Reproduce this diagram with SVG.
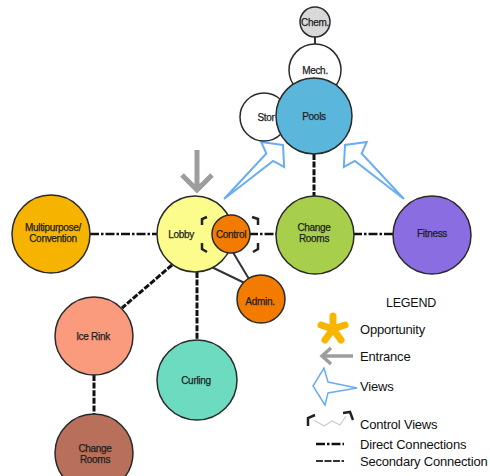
<svg xmlns="http://www.w3.org/2000/svg" width="490" height="476" viewBox="0 0 490 476">
<style>
.n{stroke:#2a2a2a;stroke-width:1.5}
.t{font-family:"Liberation Sans",Arial,sans-serif;font-size:10px;fill:#1e1e1e;stroke:#1e1e1e;stroke-width:0.25;text-anchor:middle;letter-spacing:-0.3px}
.lg{font-family:"Liberation Sans",Arial,sans-serif;font-size:13px;fill:#111;letter-spacing:-0.2px}
.dd{stroke:#111;stroke-width:2.6;stroke-dasharray:9 2 2.5 2;fill:none}
.ds{stroke:#111;stroke-width:3;stroke-dasharray:6 1.6;fill:none}
.sl{stroke:#333;stroke-width:2;fill:none}
.view{fill:none;stroke:#6aaef0;stroke-width:2;stroke-linejoin:miter}
.ent{fill:none;stroke:#9d9d9d;stroke-width:5}
.br{fill:none;stroke:#222;stroke-width:2.5}
</style>
<defs>
<polygon id="va" points="0,0 -14,-17 -18,-5 -80,0 -18,5 -14,17"/>
</defs>
<g id="connectors">
<line class="dd" x1="90" y1="234" x2="158" y2="234"/>
<line class="dd" x1="249" y1="234" x2="276" y2="234"/>
<line class="dd" x1="353" y1="234" x2="393" y2="234"/>
<line class="ds" x1="314" y1="154" x2="314" y2="196"/>
<line class="ds" x1="197" y1="272" x2="197" y2="341"/>
<line class="ds" x1="94" y1="375" x2="94" y2="415"/>
<line class="ds" x1="172" y1="265" x2="122" y2="308"/>
<line class="sl" x1="195" y1="259" x2="255" y2="288"/>
<line class="sl" x1="228" y1="244" x2="252" y2="284"/>
<line class="sl" x1="315" y1="36" x2="315" y2="46"/>
<use href="#va" class="view" transform="translate(283,145) rotate(-42.5)"/>
<use href="#va" class="view" transform="translate(345,145) rotate(-137.5)"/>
<path class="ent" d="M197,150 V188 M182,175 L197,190 L212,175"/>
</g>
<g id="chem"><circle class="n" cx="315" cy="22" r="15" fill="#d9d9d9"/><text class="t" x="315" y="25.5">Chem.</text></g>
<g id="mech"><circle class="n" cx="315" cy="70" r="26" fill="#fff"/><text class="t" x="315" y="73.5">Mech.</text></g>
<g id="stor"><circle class="n" cx="264" cy="117" r="24" fill="#fff"/><text class="t" x="266" y="120.5">Stor</text></g>
<g id="pools"><circle class="n" cx="314" cy="116" r="38" fill="#5bb6db"/><text class="t" x="314" y="120">Pools</text></g>
<g id="multipurpose"><circle class="n" cx="51" cy="234" r="39" fill="#f6b400"/><text class="t" x="53" y="231">Multipurpose/</text><text class="t" x="53" y="242">Convention</text></g>
<g id="lobby"><circle class="n" cx="195" cy="234" r="38" fill="#fcfc8c"/><text class="t" x="181" y="238">Lobby</text></g>
<g id="control"><circle class="n" cx="231" cy="234" r="19" fill="#f27b00"/><text class="t" x="231" y="238">Control</text></g>
<g id="control-views">
<path class="br" d="M207,217 L202,219 L202,225 M202,243 L202,249 L207,252 M252,217 L258,219 L258,225 M258,243 L258,249 L253,252"/>
</g>
<g id="change-rooms"><circle class="n" cx="315" cy="235" r="39" fill="#a8cf4c"/><text class="t" x="314" y="231">Change</text><text class="t" x="314" y="242">Rooms</text></g>
<g id="fitness"><circle class="n" cx="432" cy="235" r="39" fill="#8a6de0"/><text class="t" x="432" y="237">Fitness</text></g>
<g id="admin"><circle class="n" cx="261" cy="299" r="24" fill="#f27b00"/><text class="t" x="260" y="305">Admin.</text></g>
<g id="ice-rink"><circle class="n" cx="94" cy="336" r="39" fill="#f99b7c"/><text class="t" x="93" y="340">Ice Rink</text></g>
<g id="curling"><circle class="n" cx="197" cy="380" r="40" fill="#6cdbc0"/><text class="t" x="196" y="384">Curling</text></g>
<g id="change-rooms-2"><circle class="n" cx="94" cy="453" r="39" fill="#b8705a"/><text class="t" x="95" y="452">Change</text><text class="t" x="95" y="463">Rooms</text></g>
<g id="legend">
<text class="lg" x="411" y="307" text-anchor="middle" style="font-size:12.5px">LEGEND</text>
<g stroke="#f7b500" stroke-width="7" stroke-linecap="round">
<line x1="333" y1="329" x2="333" y2="316"/>
<line x1="333" y1="329" x2="345" y2="325"/>
<line x1="333" y1="329" x2="341" y2="340"/>
<line x1="333" y1="329" x2="325" y2="340"/>
<line x1="333" y1="329" x2="321" y2="325"/>
</g>
<text class="lg" x="360" y="334">Opportunity</text>
<path class="ent" style="stroke-width:3.5" d="M353,356 H322 M331,348 L322,356 L331,364"/>
<text class="lg" x="360" y="361">Entrance</text>
<polygon class="view" style="stroke-width:1.5" points="313,386 324,368 328,382 357,388 328,393 325,405"/>
<text class="lg" x="360" y="391">Views</text>
<polyline points="314,420 324,426 332,421 340,425 346,416" fill="none" stroke="#ccc" stroke-width="1.2"/>
<path class="br" d="M308,426 L308,418 L315,415 M343,413 L350,412 L353,420"/>
<text class="lg" x="360" y="429">Control Views</text>
<line class="dd" x1="316" y1="444" x2="344" y2="444"/>
<text class="lg" x="360" y="449">Direct Connections</text>
<line x1="316" y1="461" x2="344" y2="461" stroke="#333" stroke-width="2" stroke-dasharray="7 1.5"/>
<text class="lg" x="360" y="466">Secondary Connection</text>
</g>
</svg>
